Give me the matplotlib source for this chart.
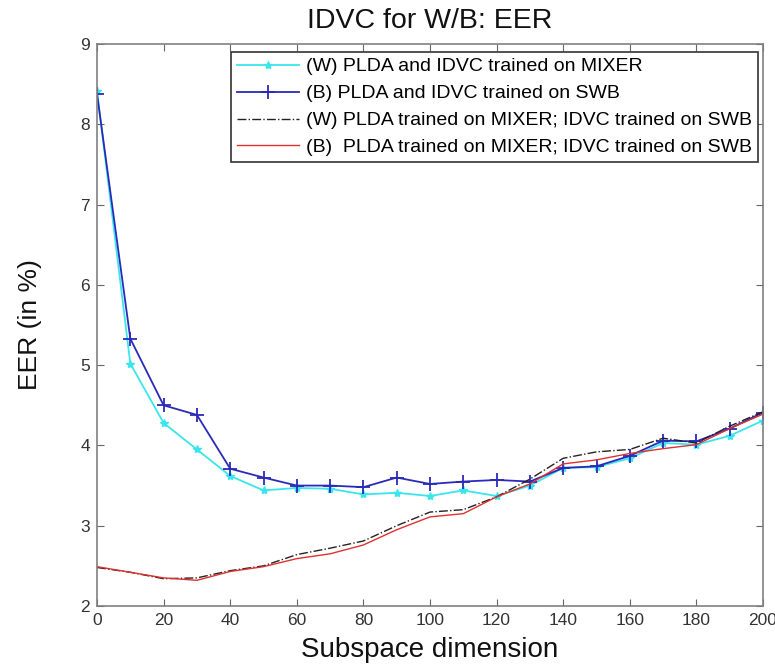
import matplotlib
matplotlib.use("Agg")
import matplotlib.pyplot as plt

plt.rcParams['font.family'] = ['Liberation Sans', 'DejaVu Sans']

dims = [0, 10, 20, 30, 40, 50, 60, 70, 80, 90, 100, 110, 120, 130, 140, 150, 160, 170, 180, 190, 200]

w_same = [8.42, 5.02, 4.28, 3.95, 3.62, 3.44, 3.47, 3.46, 3.39, 3.41, 3.37, 3.44, 3.37, 3.50, 3.72, 3.73, 3.84, 4.03, 4.01, 4.12, 4.31]
b_same = [8.38, 5.33, 4.50, 4.38, 3.71, 3.60, 3.50, 3.50, 3.48, 3.60, 3.52, 3.55, 3.57, 3.55, 3.72, 3.74, 3.87, 4.06, 4.05, 4.21, 4.41]
w_cross = [2.48, 2.42, 2.34, 2.35, 2.44, 2.50, 2.64, 2.72, 2.81, 3.00, 3.17, 3.20, 3.36, 3.58, 3.84, 3.92, 3.95, 4.09, 4.03, 4.24, 4.42]
b_cross = [2.49, 2.42, 2.35, 2.32, 2.43, 2.49, 2.59, 2.65, 2.76, 2.95, 3.11, 3.15, 3.36, 3.52, 3.77, 3.82, 3.90, 3.96, 4.01, 4.21, 4.39]

labels = ["(W) PLDA and IDVC trained on MIXER",
          "(B) PLDA and IDVC trained on SWB",
          "(W) PLDA trained on MIXER; IDVC trained on SWB",
          "(B)  PLDA trained on MIXER; IDVC trained on SWB"]

W, H = 775, 667
fig = plt.figure(figsize=(W/100, H/100), dpi=100)
L, R, T, B = 97, 763, 44, 606
ax = fig.add_axes([L/W, 1 - B/H, (R-L)/W, (B-T)/H])

ax.plot(dims, w_same, color='#3ae6ee', marker='*', markersize=6, lw=1.3, label=labels[0])
ax.plot(dims, b_same, color='#2a2ab8', marker='+', markersize=10, mew=1.3, lw=1.3, label=labels[1])
ax.plot(dims, w_cross, color='#222222', ls='-.', lw=1.0, label=labels[2])
ax.plot(dims, b_cross, color='#e03030', lw=1.0, label=labels[3])

ax.set_xlim(0, 200)
ax.set_ylim(2, 9)
ax.set_xticks(range(0, 201, 20))
ax.set_yticks(range(2, 10))
ax.tick_params(direction='in', top=True, right=True, labelsize=12.5, colors='#666666',
               labelcolor='#333333', length=5, pad=5)
for s in ax.spines.values():
    s.set_color('#808080')
    s.set_linewidth(1.2)

ax.text(0.5, 1 + (T - 21) / (B - T), "IDVC for W/B: EER", fontsize=20.5, ha='center', va='center',
        transform=ax.transAxes, color='#111111')
ax.set_xlabel("Subspace dimension", fontsize=20, va='center', color='#111111')
ax.xaxis.set_label_coords(0.5, (B - 650) / (B - T))
ax.set_ylabel("EER (in %)", fontsize=19, va='center', color='#111111')
ax.yaxis.set_label_coords((30 - L) / (R - L), 0.5)

leg = ax.legend(loc='upper right', bbox_to_anchor=((758 - L) / (R - L), 1 - (52 - T) / (B - T)),
                borderaxespad=0, fontsize=14, frameon=True, fancybox=False, edgecolor='#333333',
                handlelength=3.2, handletextpad=0.35, labelspacing=0.48, borderpad=0.3,
                framealpha=1)
leg.get_frame().set_linewidth(1.2)

fig.savefig("out.png", dpi=100)
